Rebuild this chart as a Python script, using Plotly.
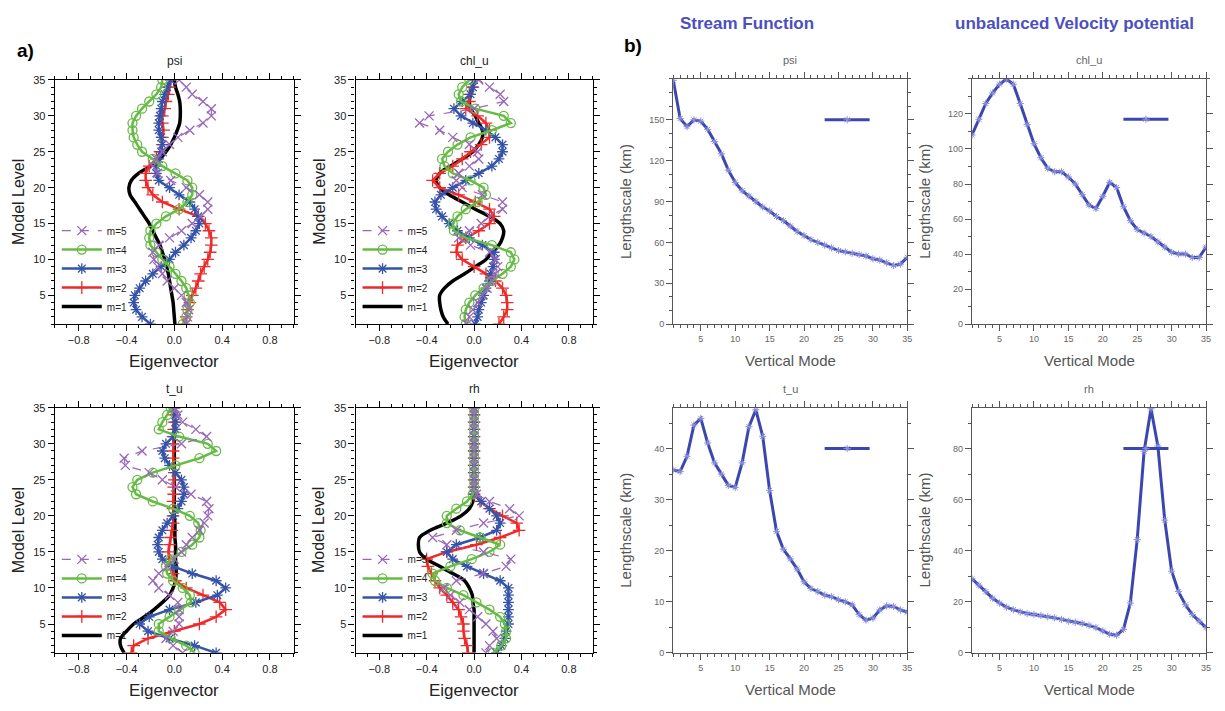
import plotly.graph_objects as go

# the page body keeps its default 8px margin, so positions below are measured
# on the 1225x711 window and shifted by OFF into figure coordinates
OFF = 8
W, H = 1225 - OFF, 711 - OFF
levels = list(range(1, 36))
modes = list(range(1, 36))

# ---- a) eigenvectors (level 1..35) ----
psi_m1 = [0.005, 0.0, -0.005, -0.01, -0.02, -0.03, -0.04, -0.05, -0.065, -0.08, -0.1, -0.12, -0.15, -0.18, -0.21, -0.25, -0.29, -0.33, -0.37, -0.38,
          -0.36, -0.3, -0.2, -0.12, -0.07, -0.03, 0.0, 0.025, 0.045, 0.05, 0.05, 0.045, 0.03, 0.01, 0.0]
psi_m2 = [0.08, 0.1, 0.11, 0.13, 0.15, 0.18, 0.2, 0.22, 0.25, 0.28, 0.3, 0.31, 0.31, 0.29, 0.26, 0.2, 0.04, -0.1, -0.18, -0.22,
          -0.24, -0.24, -0.21, -0.15, -0.12, -0.1, -0.1, -0.09, -0.1, -0.1, -0.08, -0.07, -0.05, -0.04, -0.03]
psi_m3 = [-0.2, -0.27, -0.32, -0.34, -0.33, -0.29, -0.24, -0.18, -0.11, -0.04, 0.01, 0.08, 0.14, 0.18, 0.21, 0.2, 0.17, 0.13, 0.04, -0.04,
          -0.13, -0.15, -0.15, -0.13, -0.11, -0.1, -0.11, -0.13, -0.13, -0.12, -0.11, -0.1, -0.08, -0.06, -0.03]
psi_m4 = [0.07, 0.1, 0.11, 0.13, 0.12, 0.1, 0.06, 0.01, -0.04, -0.1, -0.15, -0.2, -0.21, -0.2, -0.15, -0.07, 0.04, 0.11, 0.15, 0.15,
          0.11, 0.01, -0.1, -0.18, -0.27, -0.31, -0.34, -0.35, -0.35, -0.32, -0.27, -0.21, -0.15, -0.11, -0.1]
psi_m5 = [0.1, 0.11, 0.12, 0.1, 0.06, 0.0, -0.06, -0.1, -0.14, -0.17, -0.18, -0.13, -0.04, 0.06, 0.15, 0.22, 0.28, 0.28, 0.21, 0.1,
          -0.03, -0.14, -0.18, -0.15, -0.1, -0.04, 0.03, 0.13, 0.24, 0.31, 0.31, 0.24, 0.15, 0.1, 0.04]

chl_m1 = [-0.22, -0.26, -0.28, -0.29, -0.29, -0.25, -0.18, -0.08, 0.01, 0.1, 0.15, 0.21, 0.24, 0.25, 0.22, 0.13, 0.01, -0.1, -0.21, -0.29,
          -0.32, -0.29, -0.2, -0.1, -0.01, 0.04, 0.07, 0.07, 0.04, 0.01, -0.03, -0.04, -0.03, -0.01, 0.0]
chl_m2 = [0.21, 0.25, 0.28, 0.28, 0.27, 0.24, 0.18, 0.1, 0.0, -0.1, -0.15, -0.14, -0.07, 0.04, 0.13, 0.17, 0.13, 0.01, -0.13, -0.29,
          -0.35, -0.29, -0.18, -0.1, -0.03, 0.06, 0.13, 0.13, 0.1, 0.03, -0.07, -0.04, -0.04, -0.01, 0.0]
chl_m3 = [0.01, 0.03, 0.04, 0.06, 0.08, 0.1, 0.13, 0.14, 0.16, 0.17, 0.17, 0.07, -0.04, -0.14, -0.21, -0.27, -0.32, -0.33, -0.28, -0.18,
          -0.07, 0.04, 0.15, 0.21, 0.24, 0.24, 0.18, 0.1, -0.01, -0.11, -0.17, -0.1, -0.03, -0.01, 0.0]
chl_m4 = [-0.07, -0.08, -0.07, -0.04, 0.01, 0.08, 0.15, 0.24, 0.31, 0.34, 0.31, 0.15, -0.07, -0.17, -0.18, -0.14, -0.07, 0.03, 0.1, 0.08,
          -0.03, -0.18, -0.25, -0.27, -0.22, -0.14, -0.03, 0.15, 0.31, 0.25, 0.01, -0.11, -0.13, -0.1, -0.04]
chl_m5 = [-0.06, -0.04, -0.01, 0.03, 0.07, 0.11, 0.15, 0.18, 0.2, 0.18, 0.13, -0.03, -0.13, -0.04, 0.06, 0.13, 0.24, 0.24, 0.07, -0.1,
          -0.15, -0.13, -0.04, 0.04, 0.03, -0.04, -0.18, -0.29, -0.46, -0.38, 0.0, 0.25, 0.22, 0.13, 0.04]

tu_m1 = [-0.42, -0.45, -0.45, -0.4, -0.34, -0.25, -0.17, -0.1, -0.04, -0.01, 0.01, 0.015, 0.015, 0.01, 0.01, 0.01, 0.005, 0.005, 0.005, 0.0,
         0.0, 0.0, 0.0, 0.0, 0.0, 0.0, 0.0, 0.0, 0.0, 0.0, 0.0, 0.0, 0.0, 0.0, 0.0]
tu_m2 = [-0.36, -0.34, -0.22, 0.0, 0.21, 0.35, 0.43, 0.38, 0.24, 0.1, 0.01, -0.01, -0.03, -0.04, -0.05, -0.04, -0.03, -0.02, -0.01, -0.01,
         -0.01, -0.01, -0.005, -0.005, 0.0, 0.0, -0.005, -0.01, -0.01, -0.01, -0.01, -0.005, 0.0, 0.0, 0.0]
tu_m3 = [0.35, 0.17, -0.04, -0.22, -0.29, -0.21, -0.04, 0.18, 0.36, 0.43, 0.35, 0.15, -0.01, -0.1, -0.13, -0.14, -0.13, -0.1, -0.06, -0.01,
         0.03, 0.06, 0.08, 0.08, 0.06, 0.01, -0.04, -0.08, -0.1, -0.07, -0.01, 0.01, 0.01, 0.01, 0.0]
tu_m4 = [0.17, 0.1, -0.03, -0.13, -0.13, -0.04, 0.04, 0.14, 0.13, 0.07, -0.01, -0.06, -0.07, -0.03, 0.06, 0.15, 0.21, 0.22, 0.2, 0.13,
         -0.01, -0.18, -0.32, -0.35, -0.31, -0.18, 0.01, 0.21, 0.35, 0.28, 0.04, -0.13, -0.1, -0.06, -0.03]
tu_m5 = [0.07, -0.01, -0.07, -0.01, 0.04, 0.04, 0.04, 0.03, -0.04, -0.13, -0.18, -0.13, -0.06, 0.0, 0.06, 0.1, 0.15, 0.21, 0.25, 0.28,
         0.29, 0.27, 0.14, 0.01, -0.1, -0.21, -0.41, -0.42, -0.27, 0.06, 0.27, 0.18, 0.07, 0.03, 0.0]

rh_m1 = [0.0, 0.0, 0.0, 0.0, 0.0, 0.0, 0.0, -0.01, -0.015, -0.04, -0.08, -0.18, -0.29, -0.4, -0.46, -0.47, -0.46, -0.37, -0.23, -0.11,
         -0.04, -0.01, 0.0, 0.0, 0.0, 0.0, 0.0, 0.0, 0.0, 0.0, 0.0, 0.0, 0.0, 0.0, 0.0]
rh_m2 = [-0.05, -0.06, -0.08, -0.09, -0.09, -0.11, -0.13, -0.18, -0.23, -0.29, -0.33, -0.36, -0.39, -0.4, -0.23, 0.02, 0.22, 0.38, 0.36, 0.24,
         0.13, 0.05, 0.0, 0.0, 0.0, 0.0, 0.0, 0.0, 0.0, 0.0, 0.0, 0.0, 0.0, 0.0, 0.0]
rh_m3 = [0.19, 0.23, 0.26, 0.27, 0.29, 0.29, 0.29, 0.29, 0.29, 0.29, 0.22, 0.08, -0.06, -0.18, -0.23, -0.15, 0.05, 0.19, 0.22, 0.19,
         0.13, 0.06, 0.0, 0.0, 0.0, 0.0, 0.0, 0.0, 0.0, 0.0, 0.0, 0.0, 0.0, 0.0, 0.0]
rh_m4 = [0.16, 0.23, 0.27, 0.27, 0.26, 0.22, 0.13, 0.02, -0.09, -0.23, -0.33, -0.35, -0.2, -0.02, 0.13, 0.22, 0.05, -0.12, -0.23, -0.23,
         -0.15, -0.06, -0.01, 0.0, 0.0, 0.0, 0.0, 0.0, 0.0, 0.0, 0.0, 0.0, 0.0, 0.0, 0.0]
rh_m5 = [0.1, 0.13, 0.19, 0.16, 0.1, 0.03, -0.04, -0.12, -0.2, -0.26, -0.15, 0.08, 0.27, 0.31, 0.08, -0.23, -0.35, -0.15, 0.08, 0.38,
         0.3, 0.13, 0.02, 0.0, 0.0, 0.0, 0.0, 0.0, 0.0, 0.0, 0.0, 0.0, 0.0, 0.0, 0.0]

# ---- b) lengthscales (km) per vertical mode 1..35 ----
ls_psi = [179, 151, 145, 150, 149, 143, 134, 125, 113, 104, 98, 94, 90, 86, 83, 79, 76, 72, 68, 65,
          62, 60, 58, 56, 54, 53, 52, 51, 50, 48, 47, 45, 43, 44, 49]
ls_chl = [108, 117, 126, 132, 137, 140, 137, 126, 114, 103, 95, 89, 87, 87, 84, 80, 74, 68, 66, 73,
          81, 78, 67, 59, 54, 52, 50, 47, 44, 41, 40, 40, 38, 38, 44]
ls_tu = [35.8, 35.5, 38.5, 44.6, 45.9, 41.1, 37.2, 35.0, 32.8, 32.4, 37.2, 44.3, 47.6, 42.4, 31.8, 23.8, 20.3, 18.4, 16.4, 13.9,
         12.6, 12.0, 11.3, 11.0, 10.4, 10.0, 9.4, 7.5, 6.4, 6.8, 8.4, 9.2, 9.1, 8.4, 8.0]
ls_rh = [29, 26.5, 24, 21.4, 19.5, 17.9, 16.9, 16, 15.4, 15, 14.6, 14.1, 13.7, 13.1, 12.4, 12, 11.5, 10.8, 9.9, 8.6,
         7.3, 6.9, 9.2, 19.5, 44.4, 79, 95.6, 81, 52, 32, 24, 18.8, 15, 12.4, 9.9]

FONT = "Liberation Sans, Arial, sans-serif"

def px_x(a, b):
    return [(a - OFF) / W, (b - OFF) / W]

def px_y(top, bot):
    return [1 - (bot - OFF) / H, 1 - (top - OFF) / H]

def pxx(x):
    return (x - OFF) / W

def pxy(y):
    return 1 - (y - OFF) / H

# panel boxes in window pixels: (left, right, top, bottom)
boxes = [
    (55, 295, 75, 323), (357, 595, 75, 323), (55, 295, 408, 657), (357, 595, 408, 657),
    (676, 911, 74, 323), (976, 1211, 74, 323), (676, 911, 408, 657), (976, 1211, 408, 657),
]

styles = [
    dict(name="m=1", color="black", width=3.5, dash="solid", symbol=None, shape="spline"),
    dict(name="m=2", color="#ee2a2a", width=2.5, dash="solid", symbol="cross-thin-open", shape="linear"),
    dict(name="m=3", color="#3553a8", width=2.5, dash="solid", symbol="asterisk-open", shape="linear"),
    dict(name="m=4", color="#66bb44", width=2.5, dash="solid", symbol="circle-open", shape="linear"),
    dict(name="m=5", color="#9966bb", width=1.2, dash="dash", symbol="x-thin-open", shape="linear"),
]

eig_sets = [
    [psi_m1, psi_m2, psi_m3, psi_m4, psi_m5],
    [chl_m1, chl_m2, chl_m3, chl_m4, chl_m5],
    [tu_m1, tu_m2, tu_m3, tu_m4, tu_m5],
    [rh_m1, rh_m2, rh_m3, rh_m4, rh_m5],
]
len_sets = [ls_psi, ls_chl, ls_tu, ls_rh]
len_ranges = [[0, 180], [0, 140], [0, 48], [0, 96]]
len_dticks = [30, 20, 10, 20]
len_minor = [10, 10, 5, 10]
len_leg_y = [150, 117, 40, 80]
titles = ["psi", "chl_u", "t_u", "rh"]

fig = go.Figure()
layout = {}

for i, series in enumerate(eig_sets):
    n = i + 1
    xa = "x" if n == 1 else "x%d" % n
    ya = "y" if n == 1 else "y%d" % n
    leg = "legend" if n == 1 else "legend%d" % n
    for s, st in zip(series, styles):
        mode = "lines" if st["symbol"] is None else "lines+markers"
        fig.add_trace(go.Scatter(
            x=s, y=levels, xaxis=xa, yaxis=ya, mode=mode, name=st["name"], legend=leg,
            line=dict(color=st["color"], width=st["width"], dash=st["dash"], shape=st["shape"], smoothing=1),
            marker=dict(symbol=st["symbol"] or "circle", size=9, color=st["color"],
                        line=dict(color=st["color"], width=1.3)),
        ))
    l, r, t, b = boxes[i]
    layout[leg] = dict(
        x=pxx(l + 2), y=pxy(b - 3), xanchor="left", yanchor="bottom",
        traceorder="reversed", bgcolor="rgba(0,0,0,0)", font=dict(family=FONT, size=10, color="#222"),
        tracegroupgap=0, itemwidth=40,
    )

for i, s in enumerate(len_sets):
    n = i + 5
    xa, ya, leg = "x%d" % n, "y%d" % n, "legend%d" % n
    fig.add_trace(go.Scatter(
        x=modes, y=s, xaxis=xa, yaxis=ya, mode="lines+markers", name="", legend=leg,
        line=dict(color="#3c46b0", width=3),
        marker=dict(symbol="asterisk-open", size=6, color="#8c92dc", line=dict(color="#8c92dc", width=1)),
    ))
    l, r, t, b = boxes[n - 1]
    lo, hi = len_ranges[i]
    ypix = b - (len_leg_y[i] - lo) / (hi - lo) * (b - t)
    layout[leg] = dict(x=pxx(l + 147), y=pxy(ypix), xanchor="left", yanchor="middle",
                       bgcolor="rgba(0,0,0,0)", font=dict(size=10), itemwidth=45)

def axis_common(color, tickfont):
    return dict(showline=True, linecolor=color, linewidth=1.2, mirror="ticks", ticks="outside",
                ticklen=6, tickcolor=color, tickwidth=1, showgrid=False, zeroline=False,
                tickfont=tickfont)

for k, (l, r, t, b) in enumerate(boxes):
    n = k + 1
    xkey = "xaxis" if n == 1 else "xaxis%d" % n
    ykey = "yaxis" if n == 1 else "yaxis%d" % n
    anchor_x = "y" if n == 1 else "y%d" % n
    anchor_y = "x" if n == 1 else "x%d" % n
    if k < 4:
        tf = dict(family=FONT, size=11, color="#222")
        xa = axis_common("black", tf)
        xa.update(domain=px_x(l, r), anchor=anchor_x, range=[-1, 1], tickvals=[-0.8, -0.4, 0.0, 0.4, 0.8],
                  tickformat=".1f", minor=dict(ticks="outside", dtick=0.1, tick0=0, ticklen=3, tickcolor="black"))
        ya = axis_common("black", tf)
        ya.update(domain=px_y(t, b), anchor=anchor_y, range=[1, 35], tickvals=[5, 10, 15, 20, 25, 30, 35],
                  minor=dict(ticks="outside", dtick=1, tick0=0, ticklen=3, tickcolor="black"))
    else:
        i = k - 4
        tf = dict(family=FONT, size=9, color="#666")
        xa = axis_common("#555", tf)
        xa.update(domain=px_x(l, r), anchor=anchor_x, range=[1, 35], tickvals=[5, 10, 15, 20, 25, 30, 35],
                  minor=dict(ticks="outside", dtick=1, tick0=0, ticklen=3, tickcolor="#555"))
        ya = axis_common("#555", tf)
        d = len_dticks[i]
        ya.update(domain=px_y(t, b), anchor=anchor_y, range=len_ranges[i],
                  tickvals=list(range(0, len_ranges[i][1], d)),
                  minor=dict(ticks="outside", dtick=len_minor[i], tick0=0, ticklen=3, tickcolor="#555"))
    layout[xkey] = xa
    layout[ykey] = ya

ann = []
def text(x, y, s, size, color="black", bold=False, angle=0):
    ann.append(dict(x=pxx(x), y=pxy(y), xref="paper", yref="paper", text=("<b>%s</b>" % s) if bold else s,
                    showarrow=False, textangle=angle, font=dict(family=FONT, size=size, color=color),
                    xanchor="center", yanchor="middle"))

for k, (l, r, t, b) in enumerate(boxes):
    cx = (l + r) / 2
    cy = (t + b) / 2
    if k < 4:
        text(cx, t - 19, titles[k], 12, "#222")
        text(cx, b + 38, "Eigenvector", 17, "#222")
        text(l - 37, cy, "Model Level", 16, "#222", angle=-90)
    else:
        text(cx, t - 19, titles[k - 4], 11, "#666")
        text(cx, b + 37, "Vertical Mode", 15, "#555")
        text(l - 48, cy, "Lengthscale (km)", 15, "#555", angle=-90)

text(26, 45, "a)", 19, bold=True)
text(636, 40, "b)", 19, bold=True)
text(750, 18, "Stream Function", 17, "#4a50c0", bold=True)
text(1079, 18, "unbalanced Velocity potential", 17, "#4a50c0", bold=True)

fig.update_layout(
    width=W, height=H, margin=dict(l=0, r=0, t=0, b=0),
    plot_bgcolor="white", paper_bgcolor="white", showlegend=True,
    font=dict(family=FONT), annotations=ann, **layout,
)

fig.write_html("out.html")
